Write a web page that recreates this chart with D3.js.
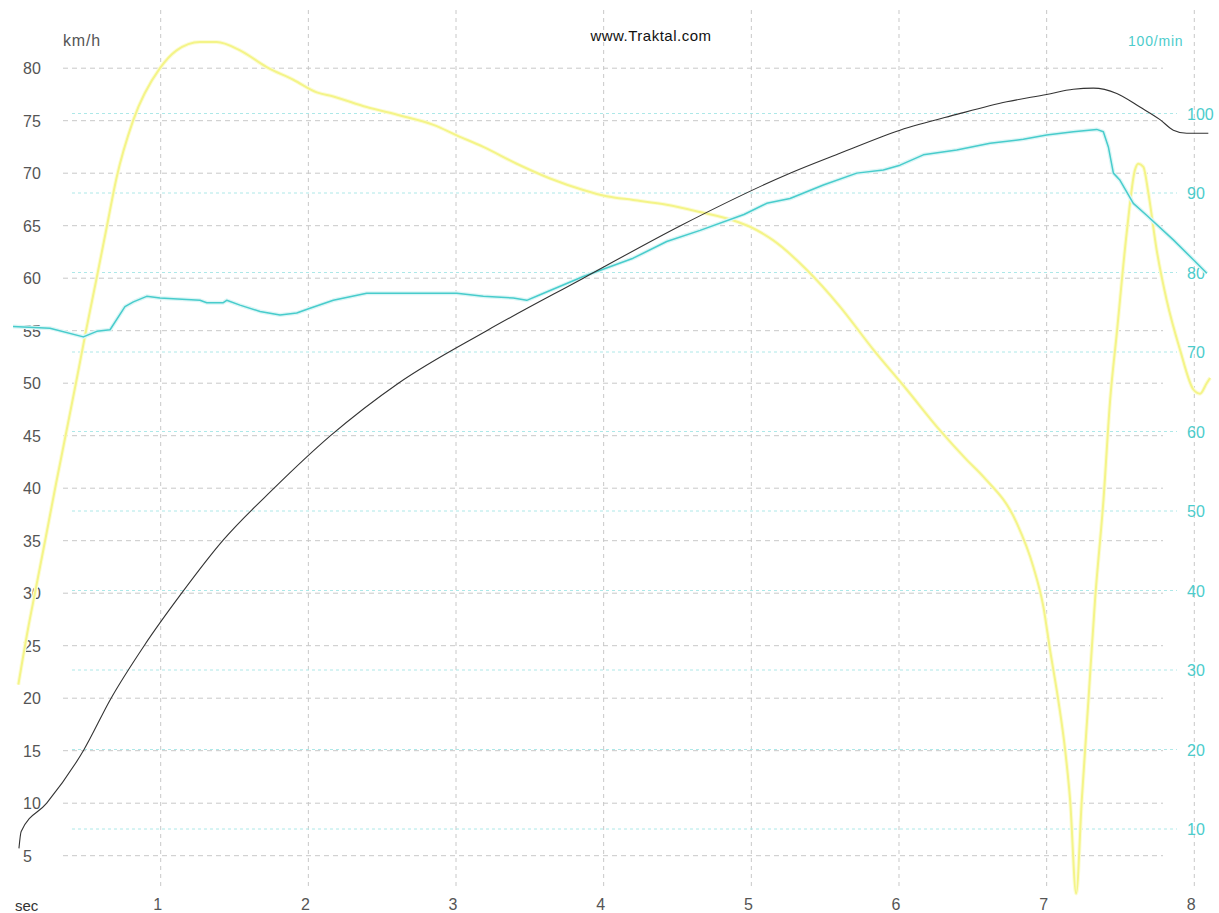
<!DOCTYPE html>
<html>
<head>
<meta charset="utf-8">
<script src="https://cdn.jsdelivr.net/npm/d3@7"></script>
<style>
  html, body { margin: 0; padding: 0; background: #fff; }
  svg { display: block; }
  text { font-family: "Liberation Sans", Arial, sans-serif; }
</style>
</head>
<body>
<svg id="chart" width="1219" height="913"></svg>
<script>
// Tick values
const secTicks = [1, 2, 3, 4, 5, 6, 7, 8];
const kmhTicks = [5, 10, 15, 20, 25, 30, 35, 40, 45, 50, 55, 60, 65, 70, 75, 80];
const rpmTicks = [10, 20, 30, 40, 50, 60, 70, 80, 90, 100];

// Vehicle speed (km/h) over time (s)
const speedTime = [0.04, 0.055, 0.228, 0.476, 0.664, 0.888, 1.142, 1.42, 1.768, 2.15, 2.61, 3.208, 3.862, 4.52, 5.262, 5.6, 6.007, 6.391, 6.73, 7.0, 7.181, 7.316, 7.475, 7.632, 7.768, 7.858, 7.949, 8.095];
const speedKmh  = [5.7, 7.3, 10.0, 15.0, 20.0, 25.0, 30.0, 35.0, 40.0, 45.0, 50.0, 55.0, 60.0, 65.0, 70.0, 71.9, 74.1, 75.6, 76.8, 77.5, 78.0, 78.1, 77.6, 76.3, 75.1, 74.1, 73.8, 73.8];

// Engine speed (100/min) over time (s)
const rpmTime = [0.0, 0.25, 0.476, 0.567, 0.657, 0.758, 0.815, 0.905, 0.995, 1.266, 1.312, 1.424, 1.447, 1.537, 1.673, 1.808, 1.921, 2.011, 2.169, 2.395, 2.734, 3.005, 3.185, 3.388, 3.479, 3.569, 3.862, 4.2, 4.427, 4.653, 4.95, 5.104, 5.262, 5.488, 5.714, 5.894, 6.007, 6.165, 6.391, 6.617, 6.842, 7.0, 7.181, 7.339, 7.384, 7.418, 7.452, 7.497, 7.587, 7.677, 7.858, 7.994, 8.085];
const rpmValue = [73.2, 73.0, 71.9, 72.6, 72.8, 75.7, 76.3, 77.0, 76.8, 76.5, 76.2, 76.2, 76.5, 75.9, 75.1, 74.65, 74.9, 75.5, 76.5, 77.4, 77.4, 77.4, 77.0, 76.8, 76.5, 77.2, 79.5, 81.8, 83.9, 85.3, 87.3, 88.7, 89.3, 91.0, 92.5, 92.9, 93.5, 94.8, 95.4, 96.25, 96.75, 97.3, 97.7, 98.0, 97.7, 95.8, 92.5, 91.6, 88.7, 87.2, 84.1, 81.6, 79.9];

// Tractive trace, plotted against the km/h axis
const tractionTime = [0.036, 0.1, 0.155, 0.224, 0.292, 0.36, 0.43, 0.497, 0.566, 0.635, 0.70, 0.813, 0.995, 1.108, 1.266, 1.379, 1.537, 1.718, 1.898, 2.057, 2.169, 2.395, 2.621, 2.847, 3.005, 3.185, 3.411, 3.637, 3.862, 4.02, 4.2, 4.427, 4.653, 4.879, 4.991, 5.149, 5.375, 5.6, 5.826, 6.052, 6.278, 6.459, 6.571, 6.797, 6.91, 6.978, 7.023, 7.079, 7.125, 7.159, 7.2, 7.238, 7.283, 7.328, 7.385, 7.43, 7.475, 7.542, 7.598, 7.621, 7.655, 7.689, 7.745, 7.813, 7.903, 7.994, 8.039, 8.084, 8.107];
const tractionValue = [21.3, 26.5, 30.5, 35.5, 40.5, 45.3, 50.3, 55.2, 60.0, 64.9, 69.5, 75.0, 80.0, 81.7, 82.5, 82.5, 81.7, 80.1, 78.9, 77.7, 77.3, 76.3, 75.5, 74.6, 73.6, 72.5, 70.9, 69.5, 68.4, 67.8, 67.45, 67.0, 66.3, 65.5, 64.9, 63.6, 60.8, 57.3, 53.2, 49.4, 45.5, 42.7, 41.1, 36.7, 32.5, 28.7, 24.6, 19.8, 15.1, 10.3, 1.4, 10.3, 19.8, 29.4, 38.9, 48.4, 54.75, 64.3, 70.3, 70.9, 70.6, 68.1, 62.7, 57.9, 53.2, 49.4, 49.0, 50.0, 50.5];

const svg = d3.select("#chart");

const x = d3.scaleLinear().domain([1, 8]).range([160.7, 1194.3]);
const yKmh = d3.scaleLinear().domain([5, 80]).range([855.7, 68.2]);
const yRpm = d3.scaleLinear().domain([10, 100]).range([829, 113.5]);

const grid = svg.append("g");

// vertical time grid
grid.selectAll("line.v").data(secTicks).join("line")
  .attr("x1", d => x(d)).attr("x2", d => x(d))
  .attr("y1", 10).attr("y2", 886)
  .attr("stroke", "#c8c8c8").attr("stroke-width", 1)
  .attr("stroke-dasharray", "4,4");

// km/h grid
grid.selectAll("line.k").data(kmhTicks).join("line")
  .attr("x1", 63).attr("x2", 1163)
  .attr("y1", d => yKmh(d)).attr("y2", d => yKmh(d))
  .attr("stroke", "#c8c8c8").attr("stroke-width", 1)
  .attr("stroke-dasharray", "5,4");

// 100/min grid
grid.selectAll("line.r").data(rpmTicks).join("line")
  .attr("x1", 72).attr("x2", 1177)
  .attr("y1", d => yRpm(d)).attr("y2", d => yRpm(d))
  .attr("stroke", "#ade8e8").attr("stroke-width", 1)
  .attr("stroke-dasharray", "3,3");

// axis labels
const labels = svg.append("g");
labels.selectAll("text.k").data(kmhTicks).join("text")
  .attr("x", 23).attr("y", d => yKmh(d) + 6)
  .attr("font-size", 16).attr("fill", "#555")
  .text(d => d);

labels.selectAll("text.r").data(rpmTicks).join("text")
  .attr("x", 1187).attr("y", d => yRpm(d) + 6)
  .attr("font-size", 16).attr("fill", "#4ccccc")
  .text(d => d);

labels.selectAll("text.s").data(secTicks).join("text")
  .attr("x", d => x(d) - 3).attr("y", 910)
  .attr("text-anchor", "middle")
  .attr("font-size", 16).attr("fill", "#555")
  .text(d => d);

labels.append("text").attr("x", 15).attr("y", 911)
  .attr("font-size", 15).attr("fill", "#333").text("sec");
labels.append("text").attr("x", 63).attr("y", 46)
  .attr("font-size", 16).attr("letter-spacing", 0.8).attr("fill", "#555").text("km/h");
labels.append("text").attr("x", 1128).attr("y", 46)
  .attr("font-size", 14).attr("letter-spacing", 0.8).attr("fill", "#4ccccc").text("100/min");
labels.append("text").attr("x", 651).attr("y", 41)
  .attr("text-anchor", "middle")
  .attr("font-size", 15).attr("letter-spacing", 0.5).attr("fill", "#111").text("www.Traktal.com");

// curves
const tractionLine = d3.line()
  .x((d, i) => x(tractionTime[i])).y(d => yKmh(d))
  .curve(d3.curveMonotoneX);
const rpmLine = d3.line()
  .x((d, i) => x(rpmTime[i])).y(d => yRpm(d));
const speedLine = d3.line()
  .x((d, i) => x(speedTime[i])).y(d => yKmh(d))
  .curve(d3.curveMonotoneX);

svg.append("path").datum(tractionValue)
  .attr("d", tractionLine).attr("fill", "none")
  .attr("stroke", "#fcfcd8").attr("stroke-width", 4).attr("stroke-linejoin", "round");
svg.append("path").datum(tractionValue)
  .attr("d", tractionLine).attr("fill", "none")
  .attr("stroke", "#f4f488").attr("stroke-width", 2).attr("stroke-linejoin", "round");

svg.append("path").datum(rpmValue)
  .attr("d", rpmLine).attr("fill", "none")
  .attr("stroke", "#dcf6f6").attr("stroke-width", 4).attr("stroke-linejoin", "round");
svg.append("path").datum(rpmValue)
  .attr("d", rpmLine).attr("fill", "none")
  .attr("stroke", "#48cccc").attr("stroke-width", 1.5).attr("stroke-linejoin", "round");

svg.append("path").datum(speedKmh)
  .attr("d", speedLine).attr("fill", "none")
  .attr("stroke", "#333").attr("stroke-width", 1.1);
</script>
</body>
</html>
